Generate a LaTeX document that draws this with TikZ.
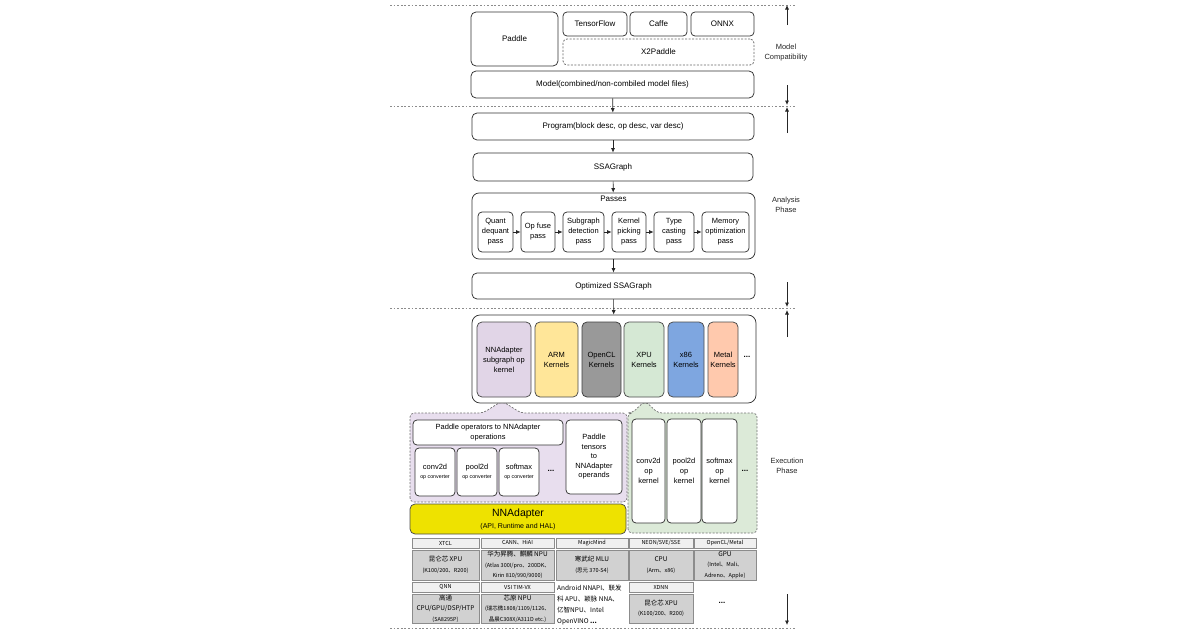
\documentclass[tikz,border=0pt]{standalone}
\usepackage{fontspec}
\setmainfont{Liberation Sans}
\newfontfamily\cjk{Noto Sans CJK SC}
\usetikzlibrary{arrows.meta}

\definecolor{nnpurple}{HTML}{E1D5E7}
\definecolor{nnregion}{HTML}{E8DEEE}
\definecolor{armyellow}{HTML}{FFE699}
\definecolor{oclgray}{HTML}{999999}
\definecolor{xpugreen}{HTML}{D5E8D4}
\definecolor{xpuregion}{HTML}{DCEAD8}
\definecolor{xblue}{HTML}{7EA6E0}
\definecolor{metalpeach}{HTML}{FFC9AD}
\definecolor{nnayellow}{HTML}{EEE200}

\newcommand\tcsub{\fontsize{5.5}{10.5}\selectfont}

\begin{document}
\begin{tikzpicture}[x=1pt,y=-1pt,
  box/.style={draw=black!80, line width=0.75pt, rounded corners=5pt, fill=white, align=center, inner sep=1pt, font=\fontsize{8}{10}\selectfont},
  sbox/.style={box, rounded corners=4pt, font=\fontsize{7.5}{10}\selectfont},
  kbox/.style={box, draw=black!70, minimum height=75, font=\fontsize{7.5}{10}\selectfont},
  thead/.style={draw=black!45, line width=0.9pt, fill=black!6, minimum height=10, inner sep=0pt, font=\cjk\fontsize{5.5}{6}\selectfont},
  tcell/.style={draw=black!45, line width=0.9pt, fill=black!18, align=center, inner sep=0pt, font=\cjk\fontsize{6.5}{10.5}\selectfont},
  arr/.style={-{Latex[length=4.5pt,width=4pt]}, line width=0.7pt, black!85},
  sep/.style={black!45, line width=0.8pt, dash pattern=on 1.8pt off 1.8pt},
  region/.style={draw=black!55, line width=0.7pt, dash pattern=on 2pt off 1.5pt, rounded corners=4pt},
  phase/.style={align=center, font=\fontsize{7.5}{10}\selectfont, text=black!85},
  dots/.style={font=\bfseries\fontsize{8}{10}\selectfont}]
\useasboundingbox (0,0) rectangle (1200,630);

% phase separators
\draw[sep] (390,5) -- (795,5);
\draw[sep] (390,106) -- (795,106);
\draw[sep] (390,308.5) -- (795,308.5);
\draw[sep] (390,628) -- (795,628);

% model compatibility
\node[box, minimum width=87, minimum height=54] (paddle) at (514.5,39) {Paddle};
\node[box, rounded corners=4pt, minimum width=64, minimum height=24] (tf) at (595,24) {TensorFlow};
\node[box, rounded corners=4pt, minimum width=57, minimum height=24] (caffe) at (658.5,24) {Caffe};
\node[box, rounded corners=4pt, minimum width=63, minimum height=24] (onnx) at (722.5,24) {ONNX};
\node[box, draw=black!60, dash pattern=on 2pt off 1.5pt, rounded corners=4pt, minimum width=191, minimum height=26] (x2p) at (658.5,52) {X2Paddle};
\node[box, minimum width=283, minimum height=27] (model) at (612.5,84.5) {Model(combined/non-combiled model files)};

% analysis
\node[box, minimum width=282, minimum height=27] (program) at (613,126.5) {Program(block desc, op desc, var desc)};
\node[box, minimum width=280, minimum height=28] (ssa) at (613,167) {SSAGraph};
\node[box, rounded corners=7pt, minimum width=283, minimum height=66, label={[anchor=north, inner sep=3pt, font=\fontsize{8}{10}\selectfont]north:Passes}] (passes) at (613.5,226) {};
\node[sbox, minimum width=35, minimum height=40] (quant) at (495.5,232) {Quant\\dequant\\pass};
\node[sbox, minimum width=34, minimum height=40] (fuse) at (538,232) {Op fuse\\pass};
\node[sbox, minimum width=41, minimum height=40] (subg) at (583.5,232) {Subgraph\\detection\\pass};
\node[sbox, minimum width=34, minimum height=40] (kpick) at (629,232) {Kernel\\picking\\pass};
\node[sbox, minimum width=40, minimum height=40] (tcast) at (674,232) {Type\\casting\\pass};
\node[sbox, minimum width=47, minimum height=40] (memopt) at (725.5,232) {Memory\\optimization\\pass};
\node[box, minimum width=283, minimum height=26] (optssa) at (613.5,286) {Optimized SSAGraph};

\draw[arr] (model) -- (program);
\draw[arr] (program) -- (ssa);
\draw[arr] (ssa) -- (passes);
\draw[arr] (quant) -- (fuse);
\draw[arr] (fuse) -- (subg);
\draw[arr] (subg) -- (kpick);
\draw[arr] (kpick) -- (tcast);
\draw[arr] (tcast) -- (memopt);
\draw[arr] (passes) -- (optssa);

% execution: callout regions
\draw[region, fill=nnregion] (410,502) -- (410,413) -- (483,413) -- (502,401) -- (521,413) -- (627,413) -- (627,502) -- cycle;
\draw[region, fill=xpuregion] (628,533) -- (628,413) -- (632,413) -- (645,401) -- (658,413) -- (757,413) -- (757,533) -- cycle;

% kernels
\node[box, rounded corners=8pt, minimum width=284, minimum height=88] (kernels) at (614,359) {};
\node[kbox, fill=nnpurple, minimum width=54] (nnsub) at (504,359.5) {NNAdapter\\subgraph op\\kernel};
\node[kbox, fill=armyellow, minimum width=43] (armk) at (556.5,359.5) {ARM\\Kernels};
\node[kbox, fill=oclgray, draw=black!75, minimum width=39] (oclk) at (601.5,359.5) {OpenCL\\Kernels};
\node[kbox, fill=xpugreen, minimum width=40] (xpuk) at (644,359.5) {XPU\\Kernels};
\node[kbox, fill=xblue, minimum width=36] (x86k) at (686,359.5) {x86\\Kernels};
\node[kbox, fill=metalpeach, minimum width=30] (metalk) at (723,359.5) {Metal\\Kernels};
\node[dots] (kdots) at (747,357) {...};
\draw[arr] (optssa) -- (kernels);

% nnadapter converters
\node[sbox, minimum width=150, minimum height=25] (ops) at (488,432.5) {Paddle operators to NNAdapter\\operations};
\node[sbox, minimum width=40, minimum height=48, font=\fontsize{7.5}{9}\selectfont] (conv) at (435,472) {conv2d\\{\fontsize{5.3}{9}\selectfont op converter}};
\node[sbox, minimum width=40, minimum height=48, font=\fontsize{7.5}{9}\selectfont] (pool) at (477,472) {pool2d\\{\fontsize{5.3}{9}\selectfont op converter}};
\node[sbox, minimum width=40, minimum height=48, font=\fontsize{7.5}{9}\selectfont] (soft) at (519,472) {softmax\\{\fontsize{5.3}{9}\selectfont op converter}};
\node[dots] (cdots) at (551,471) {...};
\node[sbox, minimum width=56, minimum height=74, font=\fontsize{7.5}{9.5}\selectfont] (tensors) at (594,457) {Paddle\\tensors\\to\\NNAdapter\\operands};
\node[box, fill=nnayellow, draw=black!70, rounded corners=5pt, minimum width=216, minimum height=30, font=\fontsize{10.5}{13}\selectfont] (nna) at (518,519) {NNAdapter\\[-1pt]{\fontsize{7}{9}\selectfont (API, Runtime and HAL)}};

% xpu kernels
\node[sbox, minimum width=33, minimum height=104] (convk) at (648.5,471) {conv2d\\op\\kernel};
\node[sbox, minimum width=34, minimum height=104] (poolk) at (684,471) {pool2d\\op\\kernel};
\node[sbox, minimum width=35, minimum height=104] (softk) at (719.5,471) {softmax\\op\\kernel};
\node[dots] (xdots) at (745,471) {...};

% hardware table
\node[thead, minimum width=67] (xtcl) at (445.5,543) {XTCL};
\node[thead, minimum width=73] (cann) at (517.5,543) {CANN、HiAI};
\node[thead, minimum width=72] (magic) at (592,543) {MagicMind};
\node[thead, minimum width=64] (neon) at (661,543) {NEON/SVE/SSE};
\node[thead, minimum width=62] (oclm) at (725,543) {OpenCL/Metal};
\node[tcell, minimum width=67, minimum height=30] (kunlun) at (445.5,565) {昆仑芯 XPU\\{\tcsub (K100/200、R200)}};
\node[tcell, minimum width=73, minimum height=30] (huawei) at (517.5,565) {华为昇腾、麒麟 NPU\\{\tcsub (Atlas 300I/pro、200DK、}\\{\tcsub Kirin 810/990/9000)}};
\node[tcell, minimum width=72, minimum height=30] (mlu) at (592,565) {寒武纪 MLU\\{\tcsub (思元 370-S4)}};
\node[tcell, minimum width=64, minimum height=30] (cpu) at (661,565) {CPU\\{\tcsub (Arm、x86)}};
\node[tcell, minimum width=62, minimum height=30] (gpu) at (725,565) {GPU\\{\tcsub (Intel、Mali、}\\{\tcsub Adreno、Apple)}};
\node[thead, minimum width=67] (qnn) at (445.5,587) {QNN};
\node[thead, minimum width=73] (vsi) at (517.5,587) {VSI TIM-VX};
\node[thead, minimum width=64] (xdnn) at (661,587) {XDNN};
\node[tcell, minimum width=67, minimum height=29] (qcom) at (445.5,608.5) {高通\\CPU/GPU/DSP/HTP\\{\tcsub (SA8295P)}};
\node[tcell, minimum width=73, minimum height=29] (vsinpu) at (517.5,608.5) {芯原 NPU\\{\tcsub (瑞芯微1808/1109/1126、}\\{\tcsub 晶晨C308X/A311D etc.)}};
\node[tcell, minimum width=64, minimum height=29] (kunlun2) at (661,608.5) {昆仑芯 XPU\\{\tcsub (K100/200、R200)}};
\node[anchor=west, align=left, inner sep=0pt, font=\cjk\fontsize{6.5}{11}\selectfont] (others) at (557,605) {Android NNAPI、联发\\科 APU、颖脉 NNA、\\亿智NPU、Intel\\OpenVINO \textbf{...}};
\node[dots] (tdots) at (722,603) {...};

% phase labels
\coordinate (mcT) at (787,5);   \coordinate (mcTa) at (787,25);
\coordinate (mcB) at (787,105); \coordinate (mcBa) at (787,85);
\coordinate (apT) at (787,107); \coordinate (apTa) at (787,133);
\coordinate (apB) at (787,307); \coordinate (apBa) at (787,282);
\coordinate (epT) at (787,310); \coordinate (epTa) at (787,337);
\coordinate (epB) at (787,625); \coordinate (epBa) at (787,594);
\draw[arr] (mcTa) -- (mcT);
\draw[arr] (mcBa) -- (mcB);
\draw[arr] (apTa) -- (apT);
\draw[arr] (apBa) -- (apB);
\draw[arr] (epTa) -- (epT);
\draw[arr] (epBa) -- (epB);
\node[phase] (mclabel) at (786,53) {Model\\Compatibility};
\node[phase] (aplabel) at (786,205) {Analysis\\Phase};
\node[phase] (eplabel) at (787,466) {Execution\\Phase};
\end{tikzpicture}
\end{document}
